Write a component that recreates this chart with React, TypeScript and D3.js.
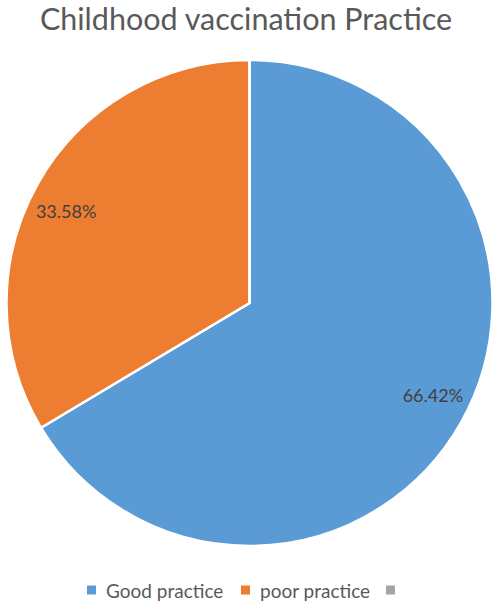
import React from 'react';
import * as d3 from 'd3';

const categories = ['Good practice', 'poor practice', ''];
const values = [66.42, 33.58, 0];
const labels = ['66.42%', '33.58%', ''];
const colors = ['#5B9BD5', '#ED7D31', '#A5A5A5'];

const width = 500;
const height = 609;
const cx = 249.5;
const cy = 303;
const radius = 243;

export default function App() {
  const pie = d3.pie<number>().value(d => d).sort(null);
  const arcs = pie(values);
  const arc = d3.arc<d3.PieArcDatum<number>>().innerRadius(0).outerRadius(radius);
  const labelShift = -3 * Math.PI / 180; // excel nudges the labels a little

  // legend layout
  const legendX = [87, 241, 386];

  return (
    <svg width={width} height={height} style={{ position: 'absolute', left: 0, top: 0, background: 'white' }}
      fontFamily="Lato, 'Open Sans', sans-serif">
      <text x={246} y={30} textAnchor="middle" fontSize={30.5} fill="#595959">
        Childhood vaccination Practice
      </text>
      <g transform={`translate(${cx},${cy})`}>
        {arcs.map((a, i) => (
          <path key={i} d={arc(a) || ''} fill={colors[i]} stroke="#fff" strokeWidth={2.5} />
        ))}
        {arcs.map((a, i) => {
          if (!labels[i]) return null;
          const [x, y] = d3.pointRadial((a.startAngle + a.endAngle) / 2 + labelShift, 205);
          return (
            <text key={'l' + i} x={x} y={y} textAnchor="middle" dominantBaseline="central"
              fontSize={18} fill="#404040">
              {labels[i]}
            </text>
          );
        })}
      </g>
      <g>
        {categories.map((c, i) => (
          <g key={i} transform={`translate(${legendX[i]},590)`}>
            <rect x={0} y={-4.5} width={9} height={9} fill={colors[i]} />
            <text x={19} y={0} dominantBaseline="central" fontSize={19} fill="#595959">{c}</text>
          </g>
        ))}
      </g>
    </svg>
  );
}
